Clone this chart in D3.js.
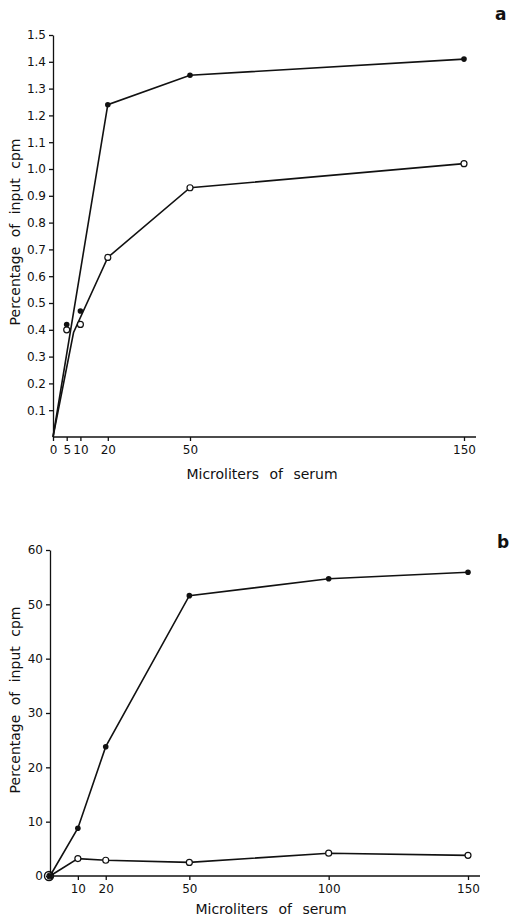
<!DOCTYPE html>
<html>
<head>
<meta charset="utf-8">
<script src="https://cdn.jsdelivr.net/npm/d3@7"></script>
<style>
  body { margin: 0; background: #fff; }
  svg text { font-family: "DejaVu Sans", sans-serif; fill: #111; }
</style>
</head>
<body>
<div class="chart"></div>
<script>
(function(){

  var width = 514;
  var height = 919;

  // panel a
  var aXTicks = [0, 5, 10, 20, 50, 150];
  var aYTicks = [0.1, 0.2, 0.3, 0.4, 0.5, 0.6, 0.7, 0.8, 0.9, 1.0, 1.1, 1.2, 1.3, 1.4, 1.5];
  var aFilledX = [5, 10, 20, 50, 150];
  var aFilledY = [0.42, 0.47, 1.24, 1.35, 1.41];
  var aFilledLineX = [0, 20, 50, 150];
  var aFilledLineY = [0, 1.24, 1.35, 1.41];
  var aOpenX = [5, 10, 20, 50, 150];
  var aOpenY = [0.40, 0.42, 0.67, 0.93, 1.02];
  var aOpenLineX = [0, 7.5, 20, 50, 150];
  var aOpenLineY = [0, 0.39, 0.67, 0.93, 1.02];

  // panel b
  var bXTicks = [10, 20, 50, 100, 150];
  var bYTicks = [0, 10, 20, 30, 40, 50, 60];
  var bFilledX = [0, 10, 20, 50, 100, 150];
  var bFilledY = [0, 8.8, 23.8, 51.6, 54.7, 55.9];
  var bOpenX = [0, 10, 20, 50, 100, 150];
  var bOpenY = [0, 3.2, 2.9, 2.5, 4.2, 3.8];

  var svg = d3.select('.chart')
              .append('svg')
              .attr('width', width)
              .attr('height', height);

  function zip(xs, ys) {
    return xs.map(function(x, i) { return [x, ys[i]]; });
  }

  function panel(opt) {
    var x = d3.scaleLinear().domain([0, 150]).range(opt.xRange);
    var y = d3.scaleLinear().domain(opt.yDomain).range(opt.yRange);
    var g = svg.append('g');

    var xAxis = g.append('g')
      .attr('transform', 'translate(0,' + opt.yRange[0] + ')')
      .call(d3.axisBottom(x).tickValues(opt.xTicks).tickSize(4).tickSizeOuter(0).tickPadding(4).tickFormat(d3.format('d')));
    xAxis.select('.domain').attr('d', 'M' + opt.xRange[0] + ',0H' + opt.xEnd);

    g.append('g')
      .attr('transform', 'translate(' + opt.xRange[0] + ',0)')
      .call(d3.axisLeft(y).tickValues(opt.yTicks).tickSize(4).tickSizeOuter(0).tickPadding(3).tickFormat(opt.yFormat));

    g.selectAll('.domain, .tick line').attr('stroke', '#111').attr('stroke-width', 1.3);
    g.selectAll('.tick text').attr('font-size', 12).attr('fill', '#111')
      .attr('font-family', '"DejaVu Sans", sans-serif');

    var line = d3.line().x(function(d) { return x(d[0]); }).y(function(d) { return y(d[1]); });

    g.append('path').datum(opt.filledLine)
      .attr('d', line).attr('fill', 'none').attr('stroke', '#111').attr('stroke-width', 1.6);
    g.append('path').datum(opt.openLine)
      .attr('d', line).attr('fill', 'none').attr('stroke', '#111').attr('stroke-width', 1.6);

    g.selectAll('circle.open').data(opt.open).enter().append('circle')
      .attr('class', 'open')
      .attr('cx', function(d) { return x(d[0]); })
      .attr('cy', function(d) { return y(d[1]); })
      .attr('r', 3).attr('fill', '#fff').attr('stroke', '#111').attr('stroke-width', 1.2);
    g.selectAll('circle.filled').data(opt.filled).enter().append('circle')
      .attr('class', 'filled')
      .attr('cx', function(d) { return x(d[0]); })
      .attr('cy', function(d) { return y(d[1]); })
      .attr('r', 2.8).attr('fill', '#111');

    g.append('text')
      .attr('x', opt.xTitle[0]).attr('y', opt.xTitle[1])
      .attr('text-anchor', 'middle').attr('font-size', 14).attr('word-spacing', 6)
      .text('Microliters of serum');
    g.append('text')
      .attr('transform', 'translate(' + opt.yTitle[0] + ',' + opt.yTitle[1] + ') rotate(-90)')
      .attr('text-anchor', 'middle').attr('font-size', 14).attr('word-spacing', 5)
      .text('Percentage of input cpm');
    g.append('text')
      .attr('x', opt.letter[0]).attr('y', opt.letter[1])
      .attr('font-size', 17).attr('font-weight', 'bold')
      .text(opt.letterText);
    return g;
  }

  panel({
    xRange: [53, 464], xEnd: 476,
    yDomain: [0, 1.5], yRange: [437, 35],
    xTicks: aXTicks, yTicks: aYTicks, yFormat: d3.format('.1f'),
    filledLine: zip(aFilledLineX, aFilledLineY),
    openLine: zip(aOpenLineX, aOpenLineY),
    filled: zip(aFilledX, aFilledY),
    open: zip(aOpenX, aOpenY),
    xTitle: [262, 479], yTitle: [20, 232],
    letter: [495, 20], letterText: 'a'
  });

  var b = panel({
    xRange: [50, 468], xEnd: 480,
    yDomain: [0, 60], yRange: [876, 550],
    xTicks: bXTicks, yTicks: bYTicks, yFormat: d3.format('d'),
    filledLine: zip(bFilledX, bFilledY),
    openLine: zip(bOpenX, bOpenY),
    filled: zip(bFilledX, bFilledY),
    open: zip(bOpenX, bOpenY),
    xTitle: [271, 914], yTitle: [20, 700],
    letter: [497, 548], letterText: 'b'
  });

  // origin marker in b drawn as ring over the point
  var bx = d3.scaleLinear().domain([0, 150]).range([50, 468]);
  var by = d3.scaleLinear().domain([0, 60]).range([876, 550]);
  b.append('circle')
    .attr('cx', bx(bOpenX[0]) - 1).attr('cy', by(bOpenY[0]))
    .attr('r', 4.5).attr('fill', 'none').attr('stroke', '#111').attr('stroke-width', 1.4);

})();
</script>
</body>
</html>
